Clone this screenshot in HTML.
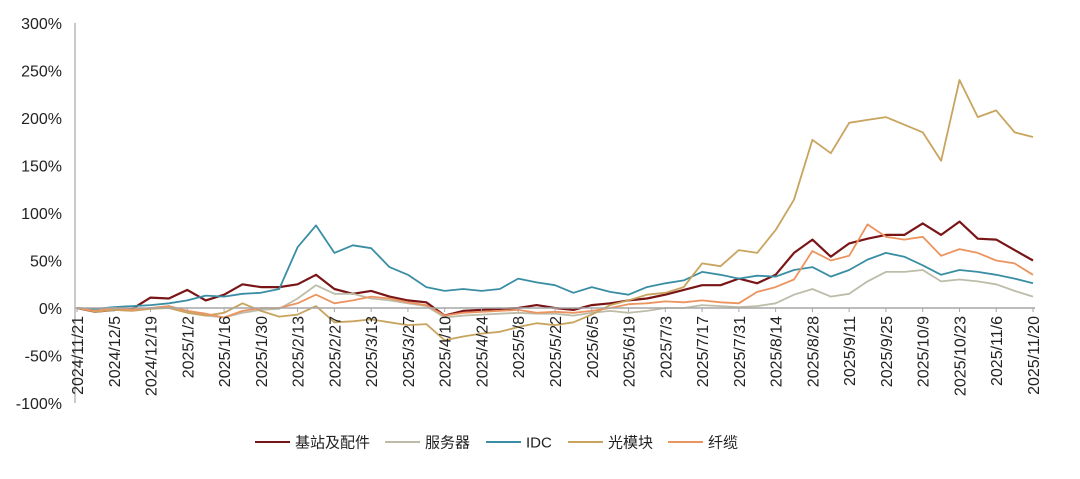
<!DOCTYPE html>
<html><head><meta charset="utf-8"><style>
body{margin:0;background:#fff;}
svg text{font-family:"Liberation Sans","Noto Sans CJK SC",sans-serif;fill:#222;}
</style></head><body>
<svg id="chart" width="1080" height="474" xmlns="http://www.w3.org/2000/svg">
<g id="grid"></g><g id="series"></g><g id="axes"></g><g id="legend"></g>
</svg>
<script>
const tickLabels=["2024/11/21","2024/12/5","2024/12/19","2025/1/2","2025/1/16","2025/1/30","2025/2/13","2025/2/27","2025/3/13","2025/3/27","2025/4/10","2025/4/24","2025/5/8","2025/5/22","2025/6/5","2025/6/19","2025/7/3","2025/7/17","2025/7/31","2025/8/14","2025/8/28","2025/9/11","2025/9/25","2025/10/9","2025/10/23","2025/11/6","2025/11/20"];
const yTicks=[300,250,200,150,100,50,0,-50,-100];
const seriesNames=["基站及配件","服务器","IDC","光模块","纤缆"];
const seriesColors=["#7a1517","#bdbca9","#3a8ea4","#c8a45e","#ec9460"];
const jizhan=[0,-4,-2,-1,11,10,19,8,14,25,22,22,25,35,20,15,18,12,8,6,-8,-3,-2,-1,0,3,0,-2,3,5,8,10,14,19,24,24,31,26,35,58,72,54,68,73,77,77,89,77,91,73,72,61,50];
const fuwuqi=[0,-3,-1,-2,0,2,-3,-8,-10,-5,-2,-1,10,24,15,15,10,8,5,2,-10,-8,-7,-6,-5,-6,-6,-8,-5,-3,-5,-3,0,0,3,2,1,2,5,14,20,12,15,28,38,38,40,28,30,28,25,18,12];
const idc=[0,-1,1,2,3,5,8,13,12,15,16,20,64,87,58,66,63,43,35,22,18,20,18,20,31,27,24,16,22,17,14,22,26,29,38,35,31,34,33,40,43,33,40,51,58,54,45,35,40,38,35,31,26];
const guangmokuai=[0,-4,-2,-3,-1,0,-5,-8,-5,5,-3,-9,-7,2,-15,-14,-12,-15,-18,-17,-34,-30,-27,-25,-20,-16,-18,-15,-7,3,8,14,16,22,47,44,61,58,82,114,177,163,195,198,201,193,185,155,240,201,208,185,180];
const xianlan=[0,-3,0,-2,0,2,-3,-6,-10,-3,0,0,5,14,5,8,12,10,6,3,-8,-5,-4,-3,-2,-5,-4,-5,-3,0,4,5,7,6,8,6,5,17,22,30,60,50,55,88,75,72,75,55,62,58,50,47,35];
const allSeries=[jizhan,fuwuqi,idc,guangmokuai,xianlan];
const NS="http://www.w3.org/2000/svg";
const X0=77,X1=1033,Y0=308,PPU=0.95;
const yScale=v=>Y0-v*PPU;
const xScale=(i,n)=>X0+(X1-X0)*i/(n-1);
function mk(tag,attrs,parent){const e=document.createElementNS(NS,tag);for(const k in attrs)e.setAttribute(k,attrs[k]);parent.appendChild(e);return e;}
const axes=document.getElementById('axes'),ser=document.getElementById('series'),leg=document.getElementById('legend');
let ya=mk('line',{x1:X0-2,x2:X0-2,y1:yScale(300),y2:yScale(-100),stroke:'#a6a6a6','stroke-width':1.2},axes);


yTicks.forEach(v=>{const t=mk('text',{x:62,y:yScale(v)+6,'text-anchor':'end','font-size':16},axes);t.textContent=v+'%';

});
allSeries.forEach((arr,si)=>{const d=arr.map((v,i)=>(i?'L':'M')+xScale(i,arr.length).toFixed(1)+','+yScale(v).toFixed(1)).join('');
const p=mk('path',{d:d,fill:'none',stroke:seriesColors[si],'stroke-width':si==0?2.2:1.8,'stroke-linejoin':'round'},ser);

});
let xa=mk('line',{x1:X0-2,x2:X1+2,y1:Y0,y2:Y0,stroke:'#a6a6a6','stroke-width':1.5},axes);


tickLabels.forEach((lab,i)=>{const x=xScale(i,tickLabels.length);
mk('line',{x1:x,x2:x,y1:Y0,y2:Y0+4,stroke:'#a6a6a6'},axes);
const t=mk('text',{x:0,y:0,'text-anchor':'end','font-size':16,transform:`translate(${x+6},${Y0+8}) rotate(-90)`},axes);t.textContent=lab;

});
const legX=[255,385,486,568,668];
seriesNames.forEach((n,i)=>{const g=mk('g',{},leg);


mk('line',{x1:legX[i],x2:legX[i]+35,y1:442,y2:442,stroke:seriesColors[i],'stroke-width':2},g);
const t=mk('text',{x:legX[i]+40,y:447.5,'font-size':15},g);t.textContent=n;});
</script>
</body></html>
